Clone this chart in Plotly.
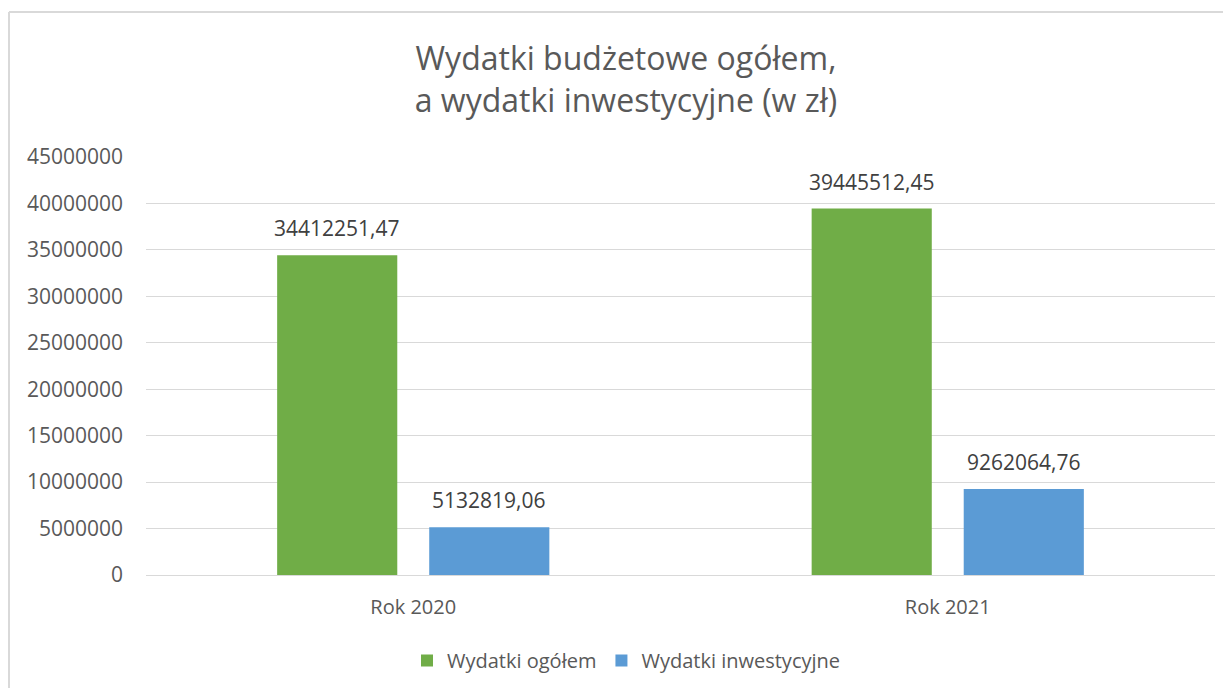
import plotly.graph_objects as go

categories = ["Rok 2020", "Rok 2021"]
wydatki_ogolem = [34412251.47, 39445512.45]
wydatki_inwestycyjne = [5132819.06, 9262064.76]
tick_vals = [0, 5000000, 10000000, 15000000, 20000000, 25000000, 30000000, 35000000, 40000000, 45000000]

# page has an 8px body margin; figure coordinates are page coords minus 8
OFF = 8
W, H = 1223, 680
L, R, T, B = 138, 16, 149, 113
pw, ph = W - L - R, H - T - B

def fmt(v):
    return f"{v:.2f}".replace(".", ",")

FONT = "Open Sans"
TXT = "#595959"
LBL = "#404040"

fig = go.Figure()
fig.add_trace(go.Bar(
    x=categories, y=wydatki_ogolem, name="Wydatki ogółem",
    marker=dict(color="#70AD47", line=dict(width=0)),
))
fig.add_trace(go.Bar(
    x=categories, y=wydatki_inwestycyjne, name="Wydatki inwestycyjne",
    marker=dict(color="#5B9BD5", line=dict(width=0)),
))

def px_x(p):
    return (p - OFF - L) / pw

def px_y(p):
    return (H - B - (p - OFF)) / ph

# data labels above bars
bargap, bargroupgap = 0.431, 0.21
slot = pw / len(categories) * (1 - bargap) / 2
annotations = []
for series, sign in ((wydatki_ogolem, -1), (wydatki_inwestycyjne, 1)):
    for cat, v in zip(categories, series):
        annotations.append(dict(
            x=cat, y=v, xref="x", yref="y", text=fmt(v), showarrow=False,
            xshift=sign * slot / 2, yshift=27, yanchor="middle",
            font=dict(family=FONT, size=21, color=LBL),
        ))

fig.update_layout(
    width=W, height=H,
    margin=dict(l=L, r=R, t=T, b=B, autoexpand=False),
    paper_bgcolor="white", plot_bgcolor="white",
    barmode="group", bargap=bargap, bargroupgap=bargroupgap,
    title=dict(
        text="Wydatki budżetowe ogółem,<br>a wydatki inwestycyjne (w zł)",
        x=(626 - OFF) / W, xanchor="center", xref="container",
        y=1 - 62 / H, yanchor="top", yref="container",
        font=dict(family=FONT, size=32, color=TXT),
    ),
    font=dict(family=FONT, color=TXT),
    showlegend=True,
    legend=dict(
        orientation="h", x=0.5 - 54 / pw, xanchor="center", xref="paper",
        y=px_y(641), yanchor="top",
        font=dict(family=FONT, size=20, color=TXT),
        traceorder="normal",
    ),
    xaxis=dict(
        showgrid=False, zeroline=False, showline=True, linecolor="#D9D9D9", linewidth=1,
        tickfont=dict(family=FONT, size=20, color=TXT), ticks="",
        ticklabelstandoff=14,
    ),
    yaxis=dict(
        range=[0, 45000000], tickvals=tick_vals, ticktext=[str(v) for v in tick_vals],
        showgrid=True, gridcolor="#D9D9D9", gridwidth=1,
        zeroline=True, zerolinecolor="#D9D9D9", zerolinewidth=1,
        tickfont=dict(family=FONT, size=21, color=TXT), ticks="",
        ticklabelstandoff=22,
    ),
    annotations=annotations,
    shapes=[
        dict(type="line", xref="paper", yref="paper", x0=px_x(9), x1=px_x(1240), y0=px_y(12), y1=px_y(12),
             line=dict(color="#D9D9D9", width=2)),
        dict(type="line", xref="paper", yref="paper", x0=px_x(9), x1=px_x(9), y0=px_y(12), y1=px_y(700),
             line=dict(color="#D9D9D9", width=2)),
    ],
)

fig.write_html("out.html")
